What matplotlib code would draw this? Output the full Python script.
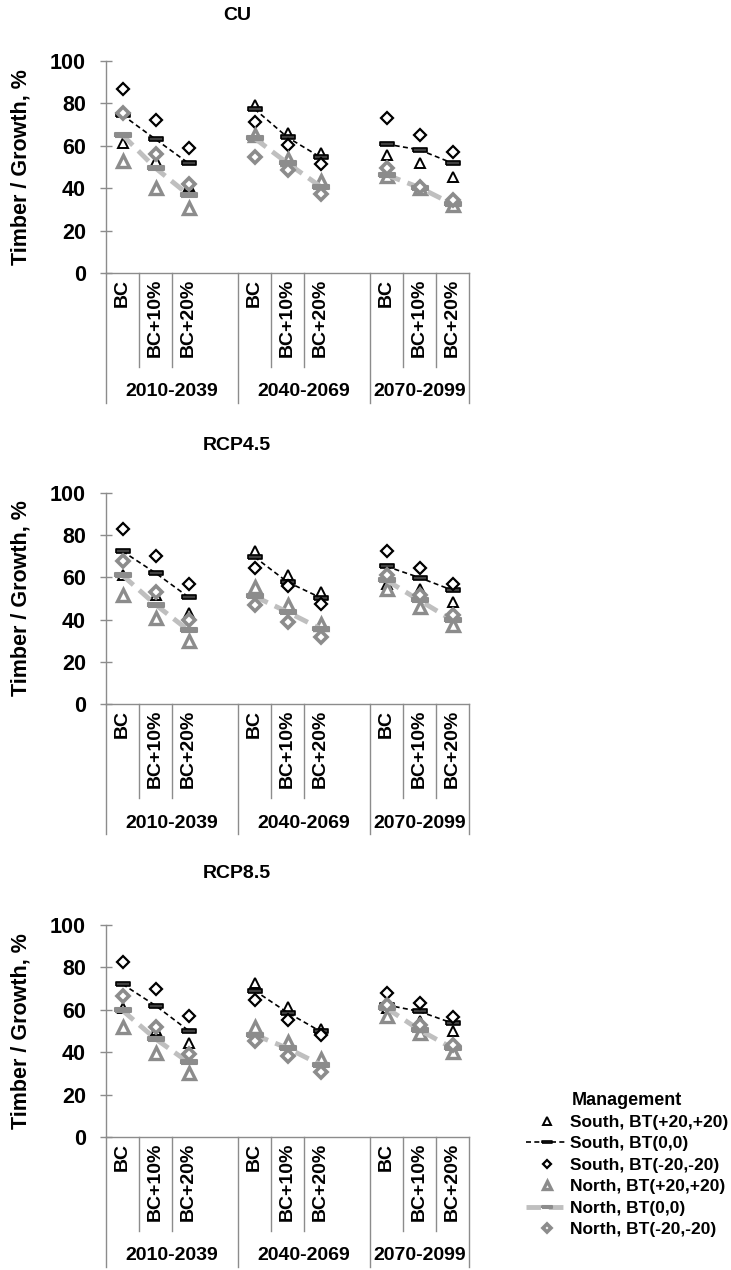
import numpy as np
import matplotlib
matplotlib.use('Agg')
import matplotlib.pyplot as plt

plt.rcParams['font.family'] = ['Liberation Sans', 'DejaVu Sans']
plt.rcParams['font.weight'] = 'bold'

# ---- data ----
PERIODS = ['2010-2039', '2040-2069', '2070-2099']
LEVELS = ['BC', 'BC+10%', 'BC+20%']
SCENARIOS = ['CU', 'RCP4.5', 'RCP8.5']
SERIES = ['South, BT(+20,+20)', 'South, BT(0,0)', 'South, BT(-20,-20)',
          'North, BT(+20,+20)', 'North, BT(0,0)', 'North, BT(-20,-20)']

# values per period: BC, BC+10%, BC+20% for each of the 3 periods
CU_S_HI  = [61.2, 53.0, 41.0,  79.3, 66.2, 56.8,  55.7, 51.8, 45.5]
CU_S_MID = [74.5, 63.1, 51.8,  77.4, 64.0, 54.6,  60.8, 58.1, 51.8]
CU_S_LO  = [86.7, 72.2, 58.9,  71.0, 60.4, 51.5,  73.3, 65.1, 57.3]
CU_N_HI  = [53.0, 40.0, 30.6,  65.0, 54.0, 43.2,  45.8, 40.0, 32.0]
CU_N_MID = [65.1, 49.5, 36.9,  63.6, 51.8, 40.8,  46.3, 40.3, 32.5]
CU_N_LO  = [75.4, 56.2, 42.0,  54.6, 48.4, 37.4,  49.5, 40.8, 34.2]

R45_S_HI  = [61.0, 51.5, 43.1,  72.5, 61.0, 53.1,  57.0, 54.7, 48.3]
R45_S_MID = [72.4, 62.1, 50.7,  69.7, 57.8, 50.4,  65.2, 59.9, 53.9]
R45_S_LO  = [83.1, 70.1, 57.0,  64.5, 55.8, 47.6,  72.5, 64.6, 57.0]
R45_N_HI  = [51.8, 40.9, 29.7,  55.5, 46.8, 38.0,  54.7, 46.0, 37.3]
R45_N_MID = [61.0, 47.1, 34.9,  51.0, 43.6, 35.7,  58.6, 49.1, 39.7]
R45_N_LO  = [67.8, 53.1, 39.7,  46.8, 38.9, 31.8,  61.0, 51.5, 42.0]

R85_S_HI  = [60.8, 50.5, 44.3,  72.8, 61.5, 50.9,  60.8, 54.5, 49.8]
R85_S_MID = [72.1, 62.0, 50.2,  69.1, 58.7, 49.8,  62.3, 59.2, 53.7]
R85_S_LO  = [82.7, 69.9, 57.1,  64.7, 55.3, 48.2,  68.1, 63.4, 56.5]
R85_N_HI  = [52.1, 39.6, 30.1,  52.1, 44.6, 36.7,  57.1, 49.0, 40.3]
R85_N_MID = [59.7, 46.3, 35.2,  48.2, 41.9, 34.1,  60.8, 50.5, 41.9]
R85_N_LO  = [66.6, 51.8, 39.2,  45.1, 38.3, 30.5,  62.3, 52.6, 43.5]

PANEL_DATA = {
    'CU': [CU_S_HI, CU_S_MID, CU_S_LO, CU_N_HI, CU_N_MID, CU_N_LO],
    'RCP4.5': [R45_S_HI, R45_S_MID, R45_S_LO, R45_N_HI, R45_N_MID, R45_N_LO],
    'RCP8.5': [R85_S_HI, R85_S_MID, R85_S_LO, R85_N_HI, R85_N_MID, R85_N_LO],
}

# ---- styles ----
GRAY_M = '#8c8c8c'
GRAY_L = '#bfbfbf'
AXC = '#8c8c8c'
BAR = [(-1, -0.28), (1, -0.28), (1, 0.28), (-1, 0.28), (-1, -0.28)]
STYLES = [
    dict(ls='none', marker='^', ms=7.5, mfc='white', mec='black', mew=1.4),
    dict(ls=(0, (3, 2)), lw=1.2, color='black', marker=BAR, ms=10, mfc='#404040', mec='black', mew=1.2),
    dict(ls='none', marker='D', ms=6.5, mfc='white', mec='black', mew=1.6),
    dict(ls='none', marker='^', ms=8, mfc='white', mec=GRAY_M, mew=2.4),
    dict(ls=(0, (3, 1.6)), lw=3.5, color=GRAY_L, marker=BAR, ms=11, mfc=GRAY_M, mec=GRAY_M, mew=1.5),
    dict(ls='none', marker='D', ms=6.5, mfc='white', mec=GRAY_M, mew=2.6),
]

# category positions: 3 levels per period, a blank slot between periods
x_pos = [4 * g + l for g in range(3) for l in range(3)]

W, H = 731, 1270
fig = plt.figure(figsize=(W / 100, H / 100), dpi=100)

# (top px, bottom px) of each plot area, title y px
panels = [(61, 273, 16), (493, 704, 445), (925, 1137, 873)]

for name, (top, bot, ty) in zip(SCENARIOS, panels):
    ax = fig.add_axes([106 / W, 1 - bot / H, 363 / W, (bot - top) / H])
    for vals, st, lab in zip(PANEL_DATA[name], STYLES, SERIES):
        # blank slots between periods stay NaN so the lines break
        ys = np.full(11, np.nan)
        ys[x_pos] = vals
        ax.plot(np.arange(11), ys, label=lab, clip_on=False, **st)

    ax.set_xlim(-0.5, 10.5)
    ax.set_ylim(0, 100)
    ax.set_yticks(range(0, 101, 20))
    ax.set_xticks([])
    ax.tick_params(axis='y', direction='inout', length=9, width=1, color=AXC,
                   labelsize=15.5, pad=10)
    for s in ['top', 'right']:
        ax.spines[s].set_visible(False)
    for s in ['left', 'bottom']:
        ax.spines[s].set_color(AXC)
        ax.spines[s].set_linewidth(1)
    ax.set_ylabel('Timber / Growth, %', fontsize=15.5, fontweight='bold')
    ax.yaxis.set_label_coords(-0.205, 0.5)

    h = bot - top
    tr = ax.get_xaxis_transform()
    # separators below the axis
    for b in range(12):
        xb = b - 0.5
        if b in (0, 4, 8, 11):
            depth = -130 / h
        elif b in (3, 7):
            continue
        else:
            depth = -94 / h
        ax.plot([xb, xb], [0, depth], transform=tr, color=AXC, lw=1, clip_on=False)
    for g in range(3):
        for l, lev in enumerate(LEVELS):
            ax.text(4 * g + l, -6 / h, lev, transform=tr, rotation=90, ha='center', va='top',
                    fontsize=14, fontweight='bold')
        gx = 4 * g + 1.5 if g < 2 else 4 * g + 1
        ax.text(gx, -119 / h, PERIODS[g], transform=tr, ha='center', va='center',
                fontsize=14, fontweight='bold')

    fig.text(237 / W, 1 - ty / H, name, ha='center', va='center', fontsize=14, fontweight='bold')

handles, labels = ax.get_legend_handles_labels()
leg = fig.legend(handles, labels, loc='upper left', bbox_to_anchor=(517 / W, 1 - 1083 / H),
                 frameon=False, fontsize=12.5, title='Management',
                 title_fontproperties={'weight': 'bold', 'size': 13},
                 handlelength=2.4, handletextpad=0.15, labelspacing=0.36, borderpad=0,
                 markerscale=0.7)
for t in leg.get_texts():
    t.set_fontweight('bold')

fig.savefig('out.png', dpi=100)
